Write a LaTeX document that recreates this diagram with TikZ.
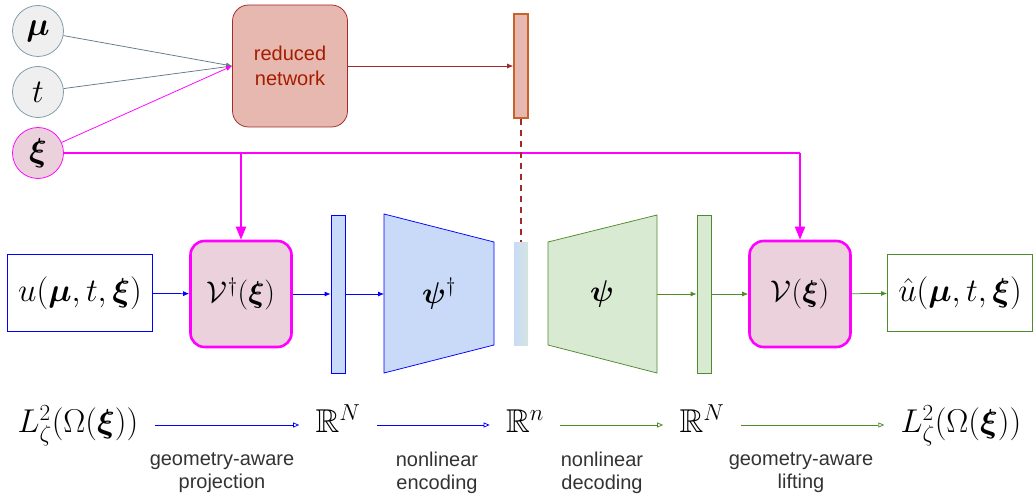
\RequirePackage{fix-cm}
\documentclass[tikz,border=0pt]{standalone}
\usepackage{amsmath,amssymb,bm}
\usepackage{fontspec}
\newfontfamily\labelfont{Liberation Sans}
\usetikzlibrary{arrows.meta,positioning}

\definecolor{encblue}{HTML}{C9DAF8}
\definecolor{decgreen}{HTML}{D9EAD3}
\definecolor{decline}{HTML}{4F8A2B}
\definecolor{geopink}{HTML}{EAD1DC}
\definecolor{geomag}{HTML}{FF00FF}
\definecolor{redfill}{HTML}{E6B8AF}
\definecolor{redline}{HTML}{A32A2A}
\definecolor{redtext}{HTML}{A61C00}
\definecolor{barorange}{HTML}{C8622A}
\definecolor{circgrey}{HTML}{EFEFEF}
\definecolor{circline}{HTML}{7C99A8}
\definecolor{labelgrey}{HTML}{333333}

\tikzset{every picture/.style={line width=0.75pt}}

\begin{document}
\begin{tikzpicture}[x=1pt,y=-1pt,
  bigmath/.style={font=\fontsize{33}{38}\selectfont},
  midmath/.style={font=\fontsize{30}{36}\selectfont},
  incirc/.style={circle,draw=circline,fill=circgrey,minimum size=51pt,inner sep=0pt,bigmath},
  rednet/.style={rectangle,rounded corners=16pt,draw=redline,fill=redfill,minimum width=115pt,minimum height=122pt,
    align=center,text=redtext,font=\labelfont\fontsize{20}{25}\selectfont},
  codebar/.style={rectangle,draw=barorange,line width=1.6pt,fill=redfill,minimum width=14pt,minimum height=104pt,inner sep=0pt},
  fieldbox/.style={rectangle,fill=white,minimum width=145pt,minimum height=77pt,inner sep=2pt,bigmath},
  geobox/.style={rectangle,rounded corners=14pt,draw=geomag,line width=2.6pt,fill=geopink,minimum width=101pt,minimum height=106pt,midmath},
  encbar/.style={rectangle,draw=blue,fill=encblue,minimum width=14pt,minimum height=158pt,inner sep=0pt},
  decbar/.style={rectangle,draw=decline,fill=decgreen,minimum width=14pt,minimum height=158pt,inner sep=0pt},
  latent/.style={rectangle,left color=encblue,right color=decgreen!70!encblue,minimum width=14pt,minimum height=103pt,inner sep=0pt},
  flow/.style={-{Latex[length=6pt,width=5pt]}},
  xiline/.style={draw=geomag,line width=2pt},
  xiarrow/.style={xiline,-{Triangle[length=13pt,width=10pt]}},
  spacelbl/.style={bigmath,text height=24pt,text depth=9pt,inner sep=2pt},
  spacearrow/.style={-{Triangle[open,length=6pt,width=5pt]},shorten <=14pt,shorten >=14pt},
  steplbl/.style={align=center,text=labelgrey,font=\labelfont\fontsize{20}{23}\selectfont}]
	\useasboundingbox (0,0) rectangle (1034,500);
	%inputs
	\node[incirc] (mu) at (38,31) {$\bm{\mu}$};
	\node[incirc] (t) at (38,92) {$t$};
	\node[incirc,draw=geomag,fill=geopink] (xi) at (38,153) {$\bm{\xi}$};
	%reduced network
	\node[rednet] (rn) at (290,66) {reduced\\network};
	\node[codebar] (code) at (521,66) {};
	\draw[circline!80!black,flow] (mu) -- (rn.west);
	\draw[circline!80!black,flow] (t) -- (rn.west);
	\draw[geomag,flow] (xi) -- (rn.west);
	\draw[redline,flow] (rn) -- (code);
	%main row
	\node[fieldbox,draw=blue] (u) at (80,293) {$u(\bm{\mu},t,\bm{\xi})$};
	\node[geobox] (vdag) at (241,294) {$\mathcal{V}^\dagger(\bm{\xi})$};
	\node[encbar] (bar1) at (338,294) {};
	%encoder
	\draw[blue,fill=encblue] (384,214) -- (494,242) -- (494,345) -- (384,373) -- cycle;
	\coordinate (encin) at (384,294);
	\node[midmath] (psidag) at (439,294) {$\bm{\psi}^\dagger$};
	\node[latent] (lat) at (521,294) {};
	%decoder
	\draw[decline,fill=decgreen] (548,242) -- (657,215) -- (657,373) -- (548,345) -- cycle;
	\coordinate (decout) at (657,294);
	\node[midmath] (psi) at (602,294) {$\bm{\psi}$};
	\node[decbar] (bar2) at (704,294) {};
	\node[geobox] (v) at (800,294) {$\mathcal{V}(\bm{\xi})$};
	\node[fieldbox,draw=decline] (uhat) at (960,293) {$\hat{u}(\bm{\mu},t,\bm{\xi})$};
	%arrows main row
	\draw[blue,flow] (u) -- (vdag);
	\draw[blue,flow] (vdag) -- (bar1);
	\draw[blue,flow] (bar1) -- (encin);
	\draw[decline,flow] (decout) -- (bar2);
	\draw[decline,flow] (bar2) -- (v);
	\draw[decline,flow] (v) -- (uhat);
	%geometry input
	\draw[xiline] (xi) -- (xi -| v.north);
	\draw[xiarrow] (xi -| v.north) -- (v.north);
	\draw[xiarrow] (xi -| vdag.north) -- (vdag.north);
	%latent link
	\draw[redline,line width=1.6pt,dash pattern=on 6pt off 5pt] (code) -- (lat);
	%spaces
	\node[spacelbl] (L1) at (78,425) {$L^2_\zeta(\Omega(\bm{\xi}))$};
	\node[spacelbl] (R1) at (338,425) {$\mathbb{R}^N$};
	\node[spacelbl] (Rn) at (525,425) {$\mathbb{R}^n$};
	\node[spacelbl] (R2) at (702,425) {$\mathbb{R}^N$};
	\node[spacelbl] (L2) at (961,425) {$L^2_\zeta(\Omega(\bm{\xi}))$};
	\draw[blue,spacearrow] (L1) -- (R1);
	\draw[blue,spacearrow] (R1) -- (Rn);
	\draw[decline,spacearrow] (Rn) -- (R2);
	\draw[decline,spacearrow] (R2) -- (L2);
	\node[steplbl] (proj) at (222,473) {geometry-aware\\projection};
	\node[steplbl] (enc) at (437,473) {nonlinear\\encoding};
	\node[steplbl] (dec) at (602,473) {nonlinear\\decoding};
	\node[steplbl] (lift) at (801,473) {geometry-aware\\lifting};
\end{tikzpicture}
\end{document}
